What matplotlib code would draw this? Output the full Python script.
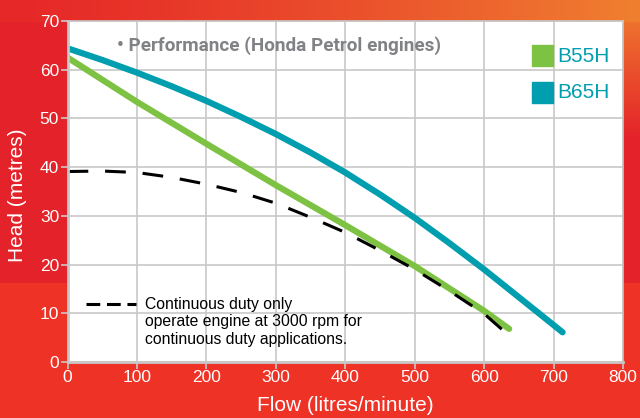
import numpy as np
import matplotlib
matplotlib.use("Agg")
from matplotlib import pyplot as plt
from matplotlib.patches import Rectangle
from matplotlib.lines import Line2D

# pump curves: flow (litres/minute) vs head (metres)
b55h_flow = [0, 100, 200, 300, 400, 500, 600, 636]
b55h_head = [62.5, 53.4, 44.8, 36.3, 28.1, 19.7, 10.5, 6.8]

b65h_flow = [0, 50, 100, 150, 200, 250, 300, 350, 400, 450, 500, 550, 600, 650, 713]
b65h_head = [64.4, 62.0, 59.4, 56.6, 53.6, 50.3, 46.8, 43.0, 38.9, 34.4, 29.6, 24.4, 19.0, 13.3, 6.1]

duty_flow = [0, 50, 100, 150, 200, 250, 300, 350, 400, 450, 500, 550, 600, 636]
duty_head = [39.1, 39.2, 38.9, 37.9, 36.5, 34.8, 32.6, 29.7, 26.6, 22.9, 19.0, 14.6, 9.9, 5.4]

x_ticks = [0, 100, 200, 300, 400, 500, 600, 700, 800]
y_ticks = [0, 10, 20, 30, 40, 50, 60, 70]

green = "#7DC242"
teal = "#009EAE"
plt.rcParams['font.family'] = ['Liberation Sans', 'DejaVu Sans']

fig = plt.figure(figsize=(6.4, 4.18), dpi=100)
fig.patch.set_facecolor("#EF3226")

# background: darker red upper block with an orange band along the top
bg = fig.add_axes([0, 0, 1, 1], zorder=-5)
bg.set_axis_off()
h, w = 418, 640
img = np.zeros((h, w, 3))
img[:] = np.array([239, 50, 38]) / 255
img[:283] = np.array([228, 34, 41]) / 255
t = np.linspace(0, 1, w) ** 1.3
red = np.array([230, 40, 40]) / 255
orange = np.array([240, 128, 48]) / 255
band = red[None, :] * (1 - t[:, None]) + orange[None, :] * t[:, None]
for r in range(22):
    img[r] = band
fade = np.linspace(1, 0, 140)
for r in range(22, 140):
    img[r, 623:] = orange * fade[r] + img[r, 623:] * (1 - fade[r])
bg.imshow(img, extent=[0, 1, 0, 1], aspect="auto")
bg.set_xlim(0, 1)
bg.set_ylim(0, 1)

ax = fig.add_axes([67.5 / 640, 1 - 362 / 418, 555.5 / 640, 341 / 418])
ax.set_facecolor("white")
ax.set_xlim(0, 800)
ax.set_ylim(0, 70)
ax.set_xticks(x_ticks)
ax.set_yticks(y_ticks)
ax.grid(True, color="#C8C8C8", linewidth=1.2)
ax.set_axisbelow(True)
for s in ax.spines.values():
    s.set_color("#C8C8C8")
    s.set_linewidth(1.2)
ax.spines["left"].set_linewidth(2)
ax.spines["bottom"].set_linewidth(2)
ax.tick_params(colors="white", labelsize=12.5, length=5, width=1.2, pad=1)
ax.tick_params(axis="both", color="#C8C8C8")
ax.set_xlabel("Flow (litres/minute)", color="white", fontsize=15, labelpad=8)
ax.set_ylabel("Head (metres)", color="white", fontsize=15)
ax.yaxis.set_label_coords(-0.073, 0.49)

ax.plot(b55h_flow, b55h_head, color=green, linewidth=4.5, solid_capstyle="round")
ax.plot(b65h_flow, b65h_head, color=teal, linewidth=4.5, solid_capstyle="round")
ax.plot(duty_flow, duty_head, color="black", linewidth=2.2, dashes=(6.8, 5.5))

ax.text(72, 64.9, "\u2022 Performance (Honda Petrol engines)", color="#808285",
        fontsize=13.6, fontweight="bold", family="Roboto", va="center")

# legend squares
ax.add_patch(Rectangle((669, 60.8), 30, 4.3, color=green, clip_on=False))
ax.add_patch(Rectangle((669, 53.2), 30, 4.3, color=teal, clip_on=False))
ax.text(706, 62.8, "B55H", color=teal, fontsize=15, va="center")
ax.text(706, 55.3, "B65H", color=teal, fontsize=15, va="center")

ax.add_line(Line2D([26, 99], [11.9, 11.9], color="black", linewidth=2.2, dashes=(4.5, 2.2)))
ax.text(111, 13.4, "Continuous duty only\noperate engine at 3000 rpm for\ncontinuous duty applications.",
        color="black", fontsize=11.3, va="top", linespacing=1.2)

fig.savefig("out.png", dpi=100, facecolor=fig.get_facecolor())
